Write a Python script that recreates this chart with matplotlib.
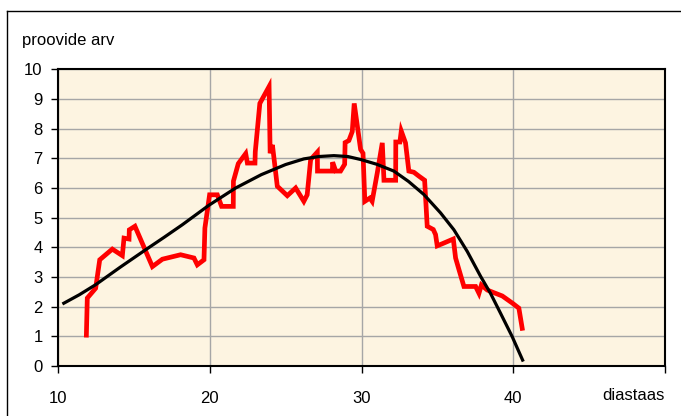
import matplotlib.pyplot as plt
from matplotlib.lines import Line2D

plt.rcParams["font.family"] = ["Liberation Sans", "DejaVu Sans"]

# measured counts (red line)
diastaas = [11.87, 11.93, 12.48, 12.75, 13.58, 14.24, 14.35, 14.68, 14.70, 15.07,
            16.22, 16.88, 18.08, 18.96, 19.18, 19.62, 19.68, 19.99, 20.50, 20.78,
            21.55, 21.56, 21.88, 22.37, 22.48, 22.98, 23.00, 23.30, 23.91, 23.98,
            24.13, 24.45, 25.11, 25.66, 26.20, 26.42, 26.65, 27.09, 27.10, 28.08,
            28.10, 28.30, 28.62, 28.89, 28.92, 29.17, 29.39, 29.52, 29.94, 30.10,
            30.22, 30.55, 30.70, 31.04, 31.37, 31.48, 32.25, 32.26, 32.53, 32.62,
            32.90, 33.12, 33.45, 33.78, 34.16, 34.33, 34.73, 34.88, 34.99, 35.32,
            36.05, 36.20, 36.45, 36.75, 37.52, 37.74, 37.90, 38.29, 38.73, 39.28,
            39.94, 40.37, 40.59]
proovide_arv = [1.04, 2.29, 2.62, 3.58, 3.94, 3.72, 4.31, 4.28, 4.59, 4.71,
                3.35, 3.60, 3.75, 3.64, 3.41, 3.58, 4.65, 5.77, 5.77, 5.38,
                5.38, 6.23, 6.82, 7.16, 6.84, 6.84, 7.22, 8.85, 9.42, 7.17,
                7.45, 6.06, 5.74, 6.00, 5.55, 5.77, 6.96, 7.21, 6.57, 6.57,
                6.87, 6.57, 6.57, 6.80, 7.53, 7.60, 7.90, 8.85, 7.30, 7.17,
                5.55, 5.66, 5.55, 6.51, 7.52, 6.26, 6.26, 7.55, 7.55, 7.92,
                7.52, 6.57, 6.53, 6.40, 6.26, 4.71, 4.60, 4.43, 4.05, 4.12,
                4.28, 3.64, 3.20, 2.68, 2.68, 2.45, 2.73, 2.56, 2.47, 2.36,
                2.12, 1.95, 1.27]

# trend line points (black curve)
trend_x = [10.29, 11.40, 12.48, 14.10, 15.78, 17.00, 18.19, 19.95, 21.71, 23.40,
           25.00, 26.20, 27.20, 28.18, 29.10, 29.94, 31.00, 32.13, 33.10, 34.11,
           35.21, 36.09, 36.97, 37.85, 38.50, 39.16, 39.93, 40.66]
trend_y = [2.09, 2.40, 2.74, 3.33, 3.92, 4.34, 4.76, 5.42, 6.00, 6.45,
           6.79, 6.98, 7.06, 7.09, 7.06, 6.96, 6.80, 6.57, 6.22, 5.78,
           5.16, 4.59, 3.86, 3.02, 2.45, 1.78, 0.99, 0.15]

x_ticks = [10, 20, 30, 40, 50]
x_ticklabels = ["10", "20", "30", "40", ""]
y_ticks = list(range(0, 11))

fig = plt.figure(figsize=(6.81, 4.16), dpi=100)
ax = fig.add_axes([58 / 681, 50 / 416, 607 / 681, 296.7 / 416])

ax.set_facecolor("#fdf4e1")
ax.plot(diastaas, proovide_arv, color="#ff0000", lw=3.4,
        solid_joinstyle="miter", zorder=3)
ax.plot(trend_x, trend_y, color="black", lw=2.3,
        solid_joinstyle="round", solid_capstyle="butt", zorder=4)

ax.set_xlim(10, 50)
ax.set_ylim(0, 10)
ax.set_xticks(x_ticks)
ax.set_xticklabels(x_ticklabels)
ax.set_yticks(y_ticks)
ax.grid(True, color="#a6a6a6", lw=1.0, zorder=1)
ax.set_axisbelow(True)
ax.tick_params(axis="x", direction="out", length=5, width=1, pad=13, labelsize=12)
ax.tick_params(axis="y", direction="out", length=5, width=1, pad=6, labelsize=12)
for s in ax.spines.values():
    s.set_color("black")
    s.set_linewidth(1.5)

fig.text(22 / 681, 1 - 40 / 416, "proovide arv", fontsize=12,
         ha="left", va="center")
fig.text(665 / 681, 1 - 395 / 416, "diastaas", fontsize=12,
         ha="right", va="center")

# outer chart frame
fig.add_artist(Line2D([7 / 681, 1.0], [1 - 11 / 416, 1 - 11 / 416],
                      transform=fig.transFigure, color="black", lw=1))
fig.add_artist(Line2D([7 / 681, 7 / 681], [0.0, 1 - 11 / 416],
                      transform=fig.transFigure, color="black", lw=1))

fig.savefig("out.png", dpi=100)
